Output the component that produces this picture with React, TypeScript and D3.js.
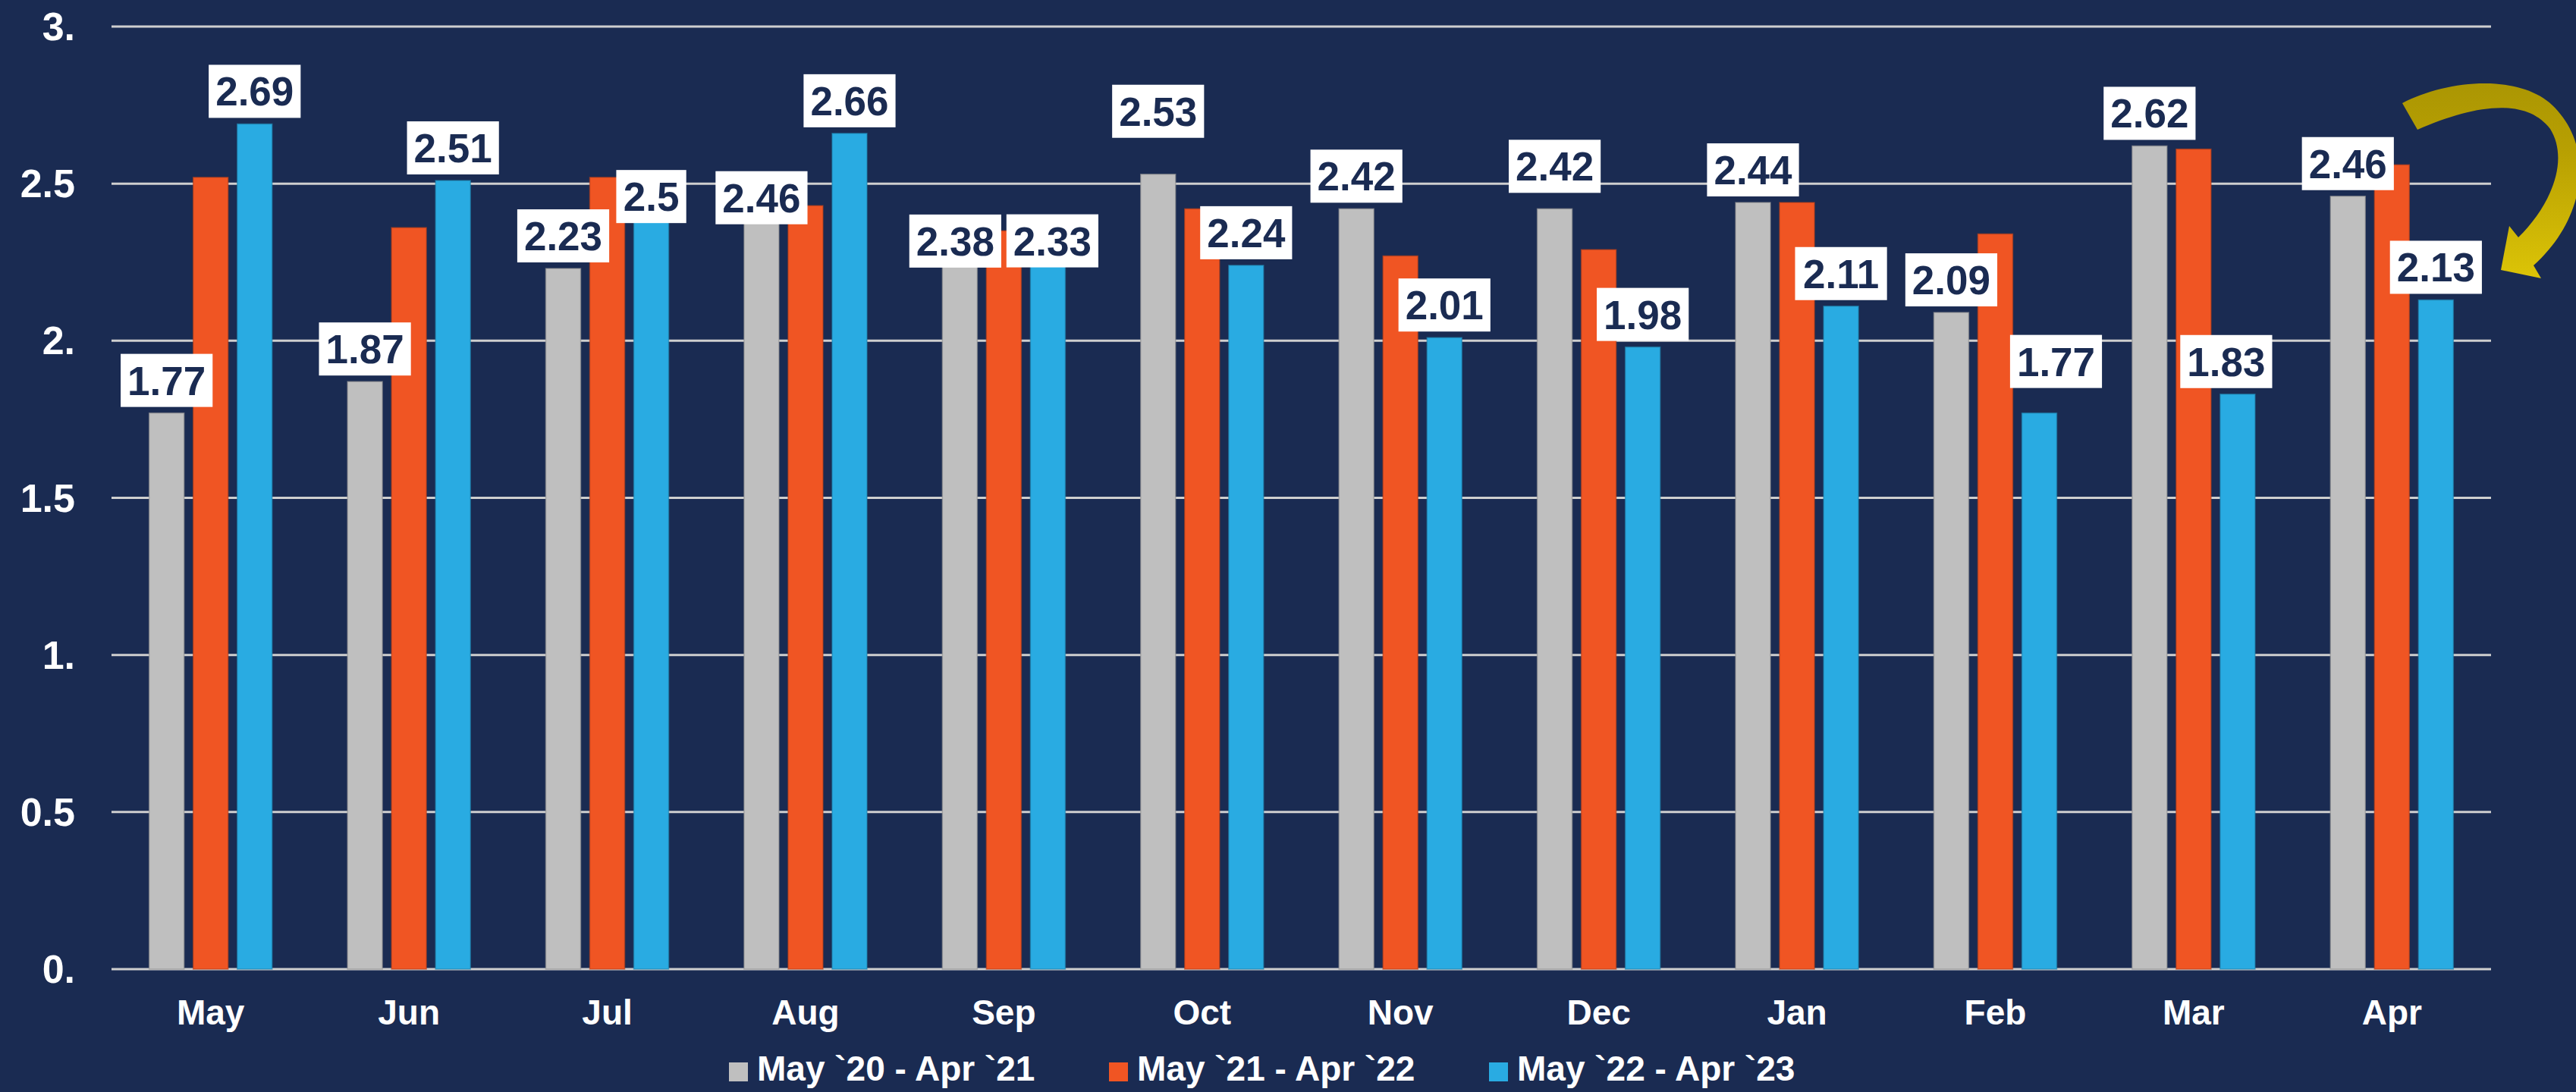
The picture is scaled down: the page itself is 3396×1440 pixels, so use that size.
import React, { useEffect } from 'react';
import * as d3 from 'd3';

const months = ['May', 'Jun', 'Jul', 'Aug', 'Sep', 'Oct', 'Nov', 'Dec', 'Jan', 'Feb', 'Mar', 'Apr'];
const seriesNames = ['May `20 - Apr `21', 'May `21 - Apr `22', 'May `22 - Apr `23'];
const y2021 = [1.77, 1.87, 2.23, 2.46, 2.38, 2.53, 2.42, 2.42, 2.44, 2.09, 2.62, 2.46];
const y2022 = [2.52, 2.36, 2.52, 2.43, 2.35, 2.42, 2.27, 2.29, 2.44, 2.34, 2.61, 2.56];
const y2023 = [2.69, 2.51, 2.5, 2.66, 2.33, 2.24, 2.01, 1.98, 2.11, 1.77, 1.83, 2.13];
const yTicks = [0, 0.5, 1, 1.5, 2, 2.5, 3];
// which series get a value label
const labelledSeries = [0, 2];

const W = 3396;
const H = 1440;
const BG = '#1a2b52';
const COLORS = ['#bfbfbf', '#f05523', '#29abe2'];
const FONT = '"Liberation Sans", Arial, sans-serif';

// hand placed labels in the original, moved off their default spot
const nudges: Record<string, [number, number]> = {
    'Jul-2': [0, 60],
    'Aug-0': [0, 45],
    'Sep-0': [-6, 69],
    'Sep-2': [6, 48],
    'Oct-0': [0, -40],
    'Dec-0': [0, -13],
    'Feb-2': [22, -25],
    'Mar-2': [-15, 0],
};

const labelWidth = (s: string) => {
    const digits = s.replace('.', '').length;
    const dots = s.length - digits;
    return digits * 28.9 + dots * 14.5 + 20;
};

const App = () => {
    useEffect(() => {
        document.body.style.margin = '0';
        document.body.style.overflow = 'hidden';
    }, []);

    const data = [y2021, y2022, y2023];
    const x0 = d3.scaleBand<string>().domain(months).range([147, 3284]).paddingInner(0.38).paddingOuter(0.19);
    const x1 = d3.scaleBand<number>().domain([0, 1, 2]).range([0, x0.bandwidth()]).paddingInner(0.207);
    const y = d3.scaleLinear().domain([0, 3]).range([1278, 35]);
    const fmt = (v: number) => (Number.isInteger(v) ? `${v}.` : `${v}`);

    const arrow = d3.path();
    arrow.moveTo(3167, 136);
    arrow.bezierCurveTo(3230, 103, 3335, 95, 3375, 150);
    arrow.bezierCurveTo(3420, 205, 3405, 292, 3340, 350);
    arrow.lineTo(3350, 367);
    arrow.lineTo(3297, 356);
    arrow.lineTo(3308, 298);
    arrow.lineTo(3320, 313);
    arrow.bezierCurveTo(3362, 272, 3388, 212, 3362, 170);
    arrow.bezierCurveTo(3330, 128, 3262, 138, 3187, 171);
    arrow.closePath();

    return (
        <svg width={W} height={H} style={{ display: 'block' }}>
            <defs>
                <linearGradient id='arrowFill' x1='0' y1='0' x2='0' y2='1'>
                    <stop offset='0%' stopColor='#ab9603' />
                    <stop offset='35%' stopColor='#b8a002' />
                    <stop offset='100%' stopColor='#dcc407' />
                </linearGradient>
            </defs>
            <rect width={W} height={H} fill={BG} />

            {yTicks.map(t => (
                <g key={t}>
                    <line x1={147} x2={3284} y1={y(t)} y2={y(t)} stroke='#cfcfcf' strokeWidth={3} />
                    <text
                        x={99}
                        y={y(t) + 18}
                        textAnchor='end'
                        fill='#fff'
                        fontFamily={FONT}
                        fontWeight='bold'
                        fontSize={52}
                    >
                        {fmt(t)}
                    </text>
                </g>
            ))}

            {months.map((m, i) => (
                <g key={m} transform={`translate(${x0(m)},0)`}>
                    {data.map((s, k) => (
                        <rect
                            key={k}
                            x={x1(k)}
                            y={y(s[i])}
                            width={x1.bandwidth()}
                            height={y(0) - y(s[i])}
                            fill={COLORS[k]}
                            stroke={d3.color(COLORS[k])!.darker(0.8).formatHex()}
                            strokeOpacity={0.6}
                            strokeWidth={1.5}
                        />
                    ))}
                    <text
                        x={x0.bandwidth() / 2}
                        y={1351}
                        textAnchor='middle'
                        fill='#fff'
                        fontFamily={FONT}
                        fontWeight='bold'
                        fontSize={46}
                    >
                        {m}
                    </text>
                </g>
            ))}

            {months.map((m, i) =>
                labelledSeries.map(k => {
                    const v = data[k][i];
                    const txt = `${v}`;
                    const [dx, dy] = nudges[`${m}-${k}`] || [0, 0];
                    const cx = (x0(m) ?? 0) + (x1(k) ?? 0) + x1.bandwidth() / 2 + dx;
                    const bottom = y(v) - 8 + dy;
                    const w = labelWidth(txt);
                    return (
                        <g key={`${m}-${k}`}>
                            <rect x={cx - w / 2} y={bottom - 70} width={w} height={70} fill='#fff' />
                            <text
                                x={cx}
                                y={bottom - 16}
                                textAnchor='middle'
                                fill={BG}
                                fontFamily={FONT}
                                fontWeight='bold'
                                fontSize={53}
                            >
                                {txt}
                            </text>
                        </g>
                    );
                })
            )}

            <path d={arrow.toString()} fill='url(#arrowFill)' />

            {seriesNames.map((name, k) => (
                <g key={name} transform={`translate(${961 + k * 501},0)`}>
                    <rect x={0} y={1401} width={25} height={25} fill={COLORS[k]} />
                    <text x={37} y={1425} fill='#fff' fontFamily={FONT} fontWeight='bold' fontSize={46}>
                        {name}
                    </text>
                </g>
            ))}
        </svg>
    );
};

export default App;
